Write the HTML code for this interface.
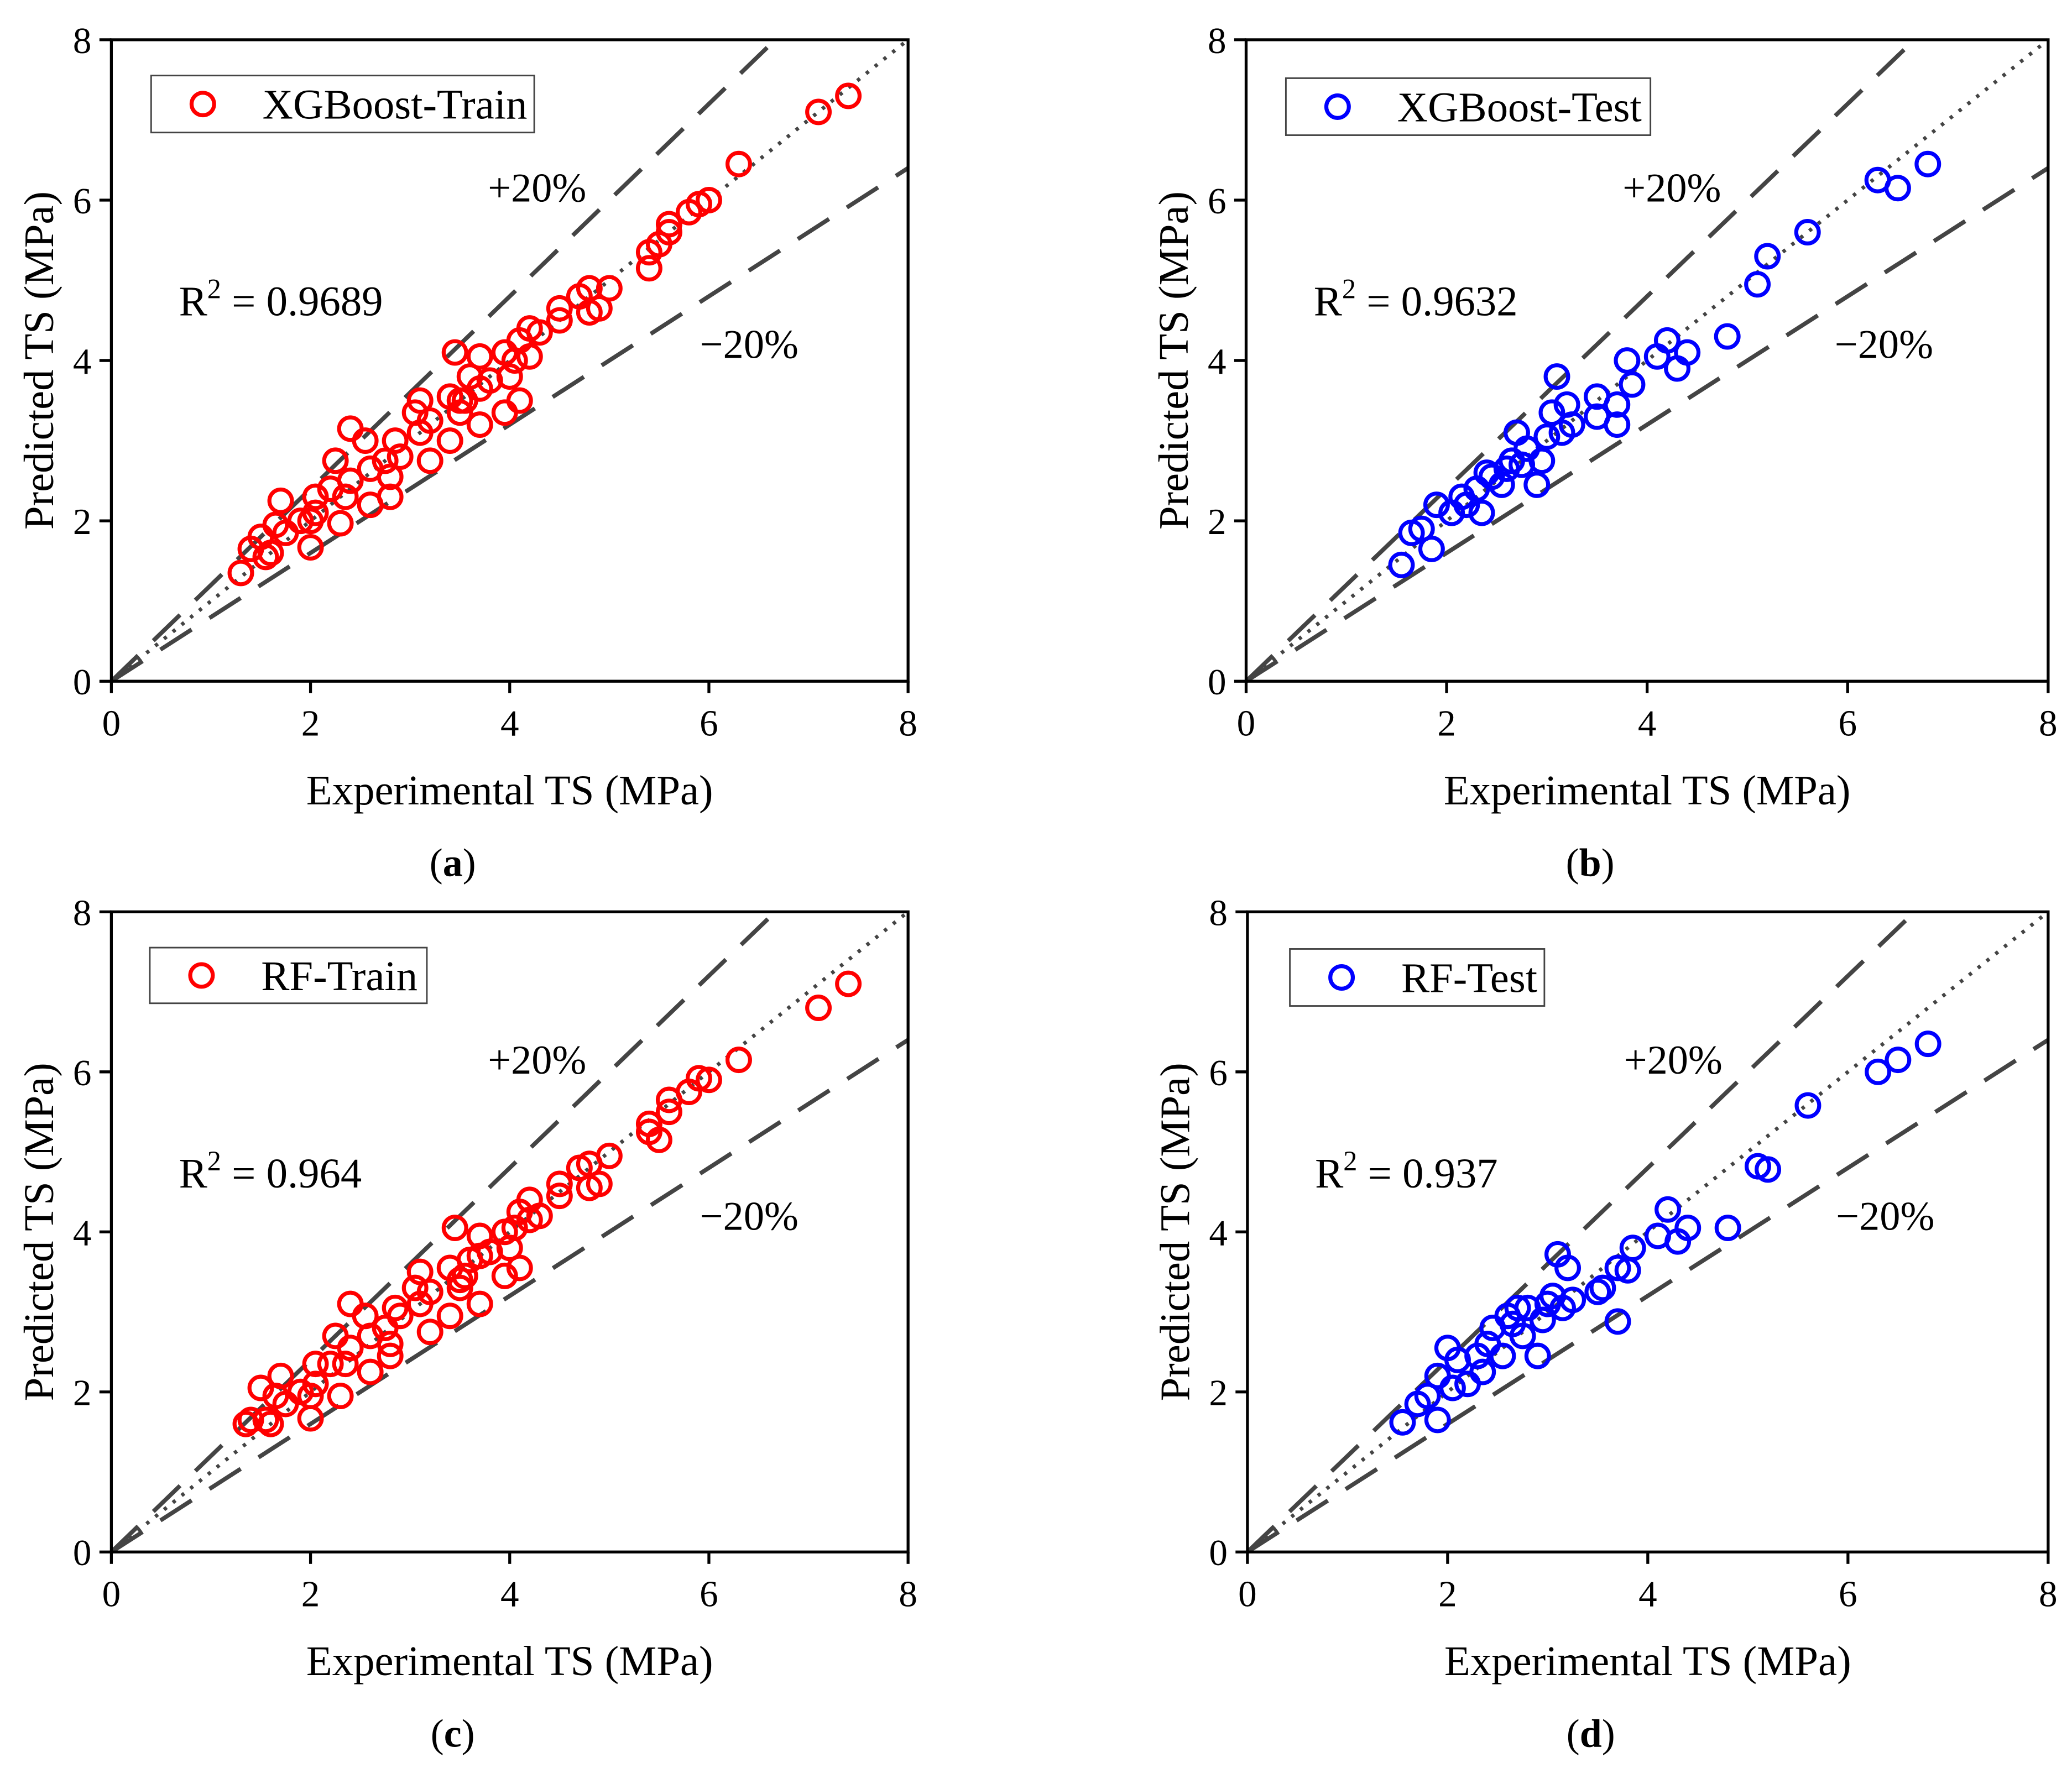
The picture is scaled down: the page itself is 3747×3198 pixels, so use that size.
<!DOCTYPE html>
<html><head><meta charset="utf-8">
<style>
html,body{margin:0;padding:0;background:#fff;}
svg{display:block;font-family:"Liberation Serif",serif;}
</style></head>
<body>
<svg id="fig" width="3747" height="3198" viewBox="0 0 1563 1334" xmlns="http://www.w3.org/2000/svg"></svg>
<script>
const ticks = [0,2,4,6,8];
const ticksLabels = ["0","2","4","6","8"];
const aX = [7.4,7.1,6.3,6.0,5.9,5.8,5.6,5.6,5.5,5.4,5.4,5.0,4.9,4.8,4.8,4.7,4.5,4.5,4.3,4.2,4.2,4.1,4.05,4.0,3.95,3.7,3.45,4.1,3.95,3.7,3.8,3.6,3.55,3.5,3.4,3.5,3.7,3.4,3.1,3.05,3.2,3.1,3.2,2.9,2.85,2.75,2.8,2.8,2.6,2.6,2.4,2.55,2.4,2.35,2.25,2.2,2.3,2.05,2.05,2.0,2.0,1.9,1.7,1.75,1.65,1.6,1.5,1.4,1.3,1.55];
const aY = [7.3,7.1,6.45,6.0,5.95,5.85,5.7,5.6,5.45,5.35,5.15,4.9,4.65,4.6,4.9,4.8,4.65,4.5,4.35,4.4,4.05,4.25,4.0,3.8,4.1,4.05,4.1,3.5,3.35,3.65,3.75,3.8,3.5,3.5,3.55,3.35,3.2,3.0,3.5,3.35,3.25,3.1,2.75,2.8,3.0,2.75,2.55,2.3,2.65,2.2,3.15,3.0,2.5,2.3,2.75,2.4,1.97,2.3,2.1,2.0,1.67,2.0,2.25,1.85,1.95,1.6,1.8,1.65,1.35,1.55];
const bX = [6.8,6.5,6.3,5.6,5.2,5.1,4.8,4.4,4.3,4.2,4.1,3.85,3.8,3.7,3.7,3.5,3.5,3.25,3.2,3.15,3.1,3.05,3.0,2.95,2.9,2.8,2.75,2.7,2.65,2.6,2.55,2.45,2.4,2.35,2.3,2.2,2.15,2.05,1.9,1.85,1.75,1.65,1.55];
const bY = [6.45,6.15,6.25,5.6,5.3,4.95,4.3,4.1,3.9,4.25,4.05,3.7,4.0,3.45,3.2,3.55,3.3,3.2,3.45,3.1,3.8,3.35,3.05,2.75,2.45,2.9,2.7,3.1,2.75,2.65,2.45,2.55,2.6,2.1,2.4,2.2,2.3,2.1,2.2,1.65,1.9,1.85,1.45];
const cX = [7.4,7.1,6.3,6.0,5.9,5.8,5.6,5.6,5.5,5.4,5.4,5.0,4.9,4.8,4.8,4.7,4.5,4.5,4.3,4.2,4.2,4.1,4.05,4.0,3.95,3.7,3.45,4.1,3.95,3.7,3.8,3.6,3.55,3.5,3.4,3.5,3.7,3.4,3.1,3.05,3.2,3.1,3.2,2.9,2.85,2.75,2.8,2.8,2.6,2.6,2.4,2.55,2.4,2.35,2.25,2.2,2.3,2.05,2.05,2.0,2.0,1.9,1.7,1.75,1.65,1.6,1.5,1.4,1.35,1.55];
const cY = [7.1,6.8,6.15,5.9,5.92,5.75,5.65,5.5,5.15,5.35,5.25,4.95,4.6,4.55,4.85,4.8,4.6,4.45,4.2,4.4,4.15,4.25,4.05,3.8,4.0,3.95,4.05,3.55,3.45,3.7,3.75,3.65,3.45,3.4,3.55,3.3,3.1,2.95,3.5,3.3,3.25,3.1,2.75,2.95,3.05,2.8,2.6,2.45,2.7,2.25,3.1,2.95,2.55,2.35,2.7,2.35,1.95,2.35,2.1,1.95,1.67,2.0,2.2,1.85,1.95,1.6,2.05,1.65,1.6,1.65];
const dX = [6.8,6.5,6.3,5.6,5.2,5.1,4.8,4.4,4.3,4.2,4.1,3.85,3.8,3.7,3.7,3.5,3.55,3.25,3.2,3.15,3.1,3.05,3.0,2.95,2.9,2.8,2.75,2.7,2.65,2.6,2.55,2.45,2.4,2.35,2.3,2.2,2.1,2.05,2.0,1.9,1.9,1.8,1.7,1.55];
const dY = [6.35,6.15,6.0,5.58,4.78,4.82,4.05,4.05,3.88,4.28,3.95,3.8,3.52,3.55,2.88,3.25,3.3,3.15,3.55,3.05,3.72,3.2,3.1,2.9,2.45,3.05,2.7,3.05,2.85,2.95,2.45,2.8,2.6,2.25,2.45,2.1,2.4,2.05,2.55,2.2,1.65,1.95,1.85,1.62];

const NS = "http://www.w3.org/2000/svg";
const svg = document.getElementById('fig');
function mk(tag, attrs, parent){
  const e = document.createElementNS(NS, tag);
  for (const k in attrs) e.setAttribute(k, attrs[k]);
  (parent||svg).appendChild(e);
  return e;
}
const panels = [
  {id:'a', L:84, R:685, B:514, T:30, xs:aX, ys:aY, color:'#ff0000', legend:'XGBoost-Train', lg:[114,57,289,43], r2:'0.9689', cap:'a'},
  {id:'b', L:940, R:1545, B:514, T:30, xs:bX, ys:bY, color:'#0000ff', legend:'XGBoost-Test', lg:[970,59,275,43], r2:'0.9632', cap:'b'},
  {id:'c', L:84, R:685, B:1171, T:688, xs:cX, ys:cY, color:'#ff0000', legend:'RF-Train', lg:[113,715,209,42], r2:'0.964', cap:'c'},
  {id:'d', L:941, R:1545, B:1171, T:688, xs:dX, ys:dY, color:'#0000ff', legend:'RF-Test', lg:[973,716,192,43], r2:'0.937', cap:'d'}
];
panels.forEach(p=>{
  const g = mk('g', {});
  
  
  const sx = v => p.L + (p.R-p.L)*v/8;
  const sy = v => p.B - (p.B-p.T)*v/8;
  const up = mk('line', {x1:sx(0),y1:sy(0),x2:sx(8/1.2),y2:sy(8),stroke:'#444','stroke-width':3.2,'stroke-dasharray':'28 16'}, g);
  
  
  const dn = mk('line', {x1:sx(0),y1:sy(0),x2:sx(8),y2:sy(6.4),stroke:'#444','stroke-width':3.2,'stroke-dasharray':'28 16'}, g);
  
  
  const id = mk('line', {x1:sx(0),y1:sy(0),x2:sx(8),y2:sy(8),stroke:'#444','stroke-width':2.8,'stroke-dasharray':'2.5 6'}, g);
  
  
  p.xs.forEach((x,i)=>{
    const c = mk('circle', {cx:sx(x), cy:sy(p.ys[i]), r:8.5, fill:'none', stroke:p.color, 'stroke-width':3}, g);
    
    
  });
  const fr = mk('rect', {x:p.L, y:p.T, width:p.R-p.L, height:p.B-p.T, fill:'none', stroke:'#000','stroke-width':2.2}, g);
  
  
  ticks.forEach((t,i)=>{
    mk('line', {x1:sx(t),y1:p.B,x2:sx(t),y2:p.B+9,stroke:'#000','stroke-width':2.2}, g);
    mk('line', {x1:p.L-9,y1:sy(t),x2:p.L,y2:sy(t),stroke:'#000','stroke-width':2.2}, g);
    const xl = mk('text', {x:sx(t), y:p.B+41, 'font-size':28, 'text-anchor':'middle'}, g);
    xl.textContent = ticksLabels[i];
    
    
    const yl = mk('text', {x:p.L-15, y:sy(t)+10, 'font-size':28, 'text-anchor':'end'}, g);
    yl.textContent = ticksLabels[i];
    
    
  });
  const xt = mk('text', {x:(p.L+p.R)/2, y:p.B+93, 'font-size':32, 'text-anchor':'middle'}, g);
  xt.textContent = 'Experimental TS (MPa)';
  
  
  const yc = (p.B+p.T)/2;
  const yt = mk('text', {x:p.L-44, y:yc, 'font-size':32, 'text-anchor':'middle', transform:`rotate(-90 ${p.L-44} ${yc})`}, g);
  yt.textContent = 'Predicted TS (MPa)';
  
  
  const cap = mk('text', {x:(p.L+p.R)/2 - 43, y:p.B+147, 'font-size':30, 'text-anchor':'middle'}, g);
  cap.innerHTML = '(<tspan font-weight="bold">'+p.cap+'</tspan>)';
  
  
  const lg = mk('g', {}, g);
  
  
  mk('rect', {x:p.lg[0], y:p.lg[1], width:p.lg[2], height:p.lg[3], fill:'#fff', stroke:'#444', 'stroke-width':1.2}, lg);
  mk('circle', {cx:p.lg[0]+39, cy:p.lg[1]+p.lg[3]/2, r:8.5, fill:'none', stroke:p.color, 'stroke-width':3}, lg);
  const lt = mk('text', {x:p.lg[0]+84, y:p.lg[1]+p.lg[3]/2+11, 'font-size':32}, lg);
  lt.textContent = p.legend;
  
  
  const plus = mk('text', {x:p.L+284, y:p.T+122, 'font-size':31}, g);
  plus.textContent = '+20%';
  
  
  const minus = mk('text', {x:p.L+444, y:p.T+240, 'font-size':31}, g);
  minus.textContent = '\u221220%';
  
  
  const r2 = mk('text', {x:p.L+51, y:p.T+208, 'font-size':32}, g);
  r2.innerHTML = 'R<tspan font-size="21" dy="-13">2</tspan><tspan dy="13"> = '+p.r2+'</tspan>';
  
  
});
</script>
</body></html>
